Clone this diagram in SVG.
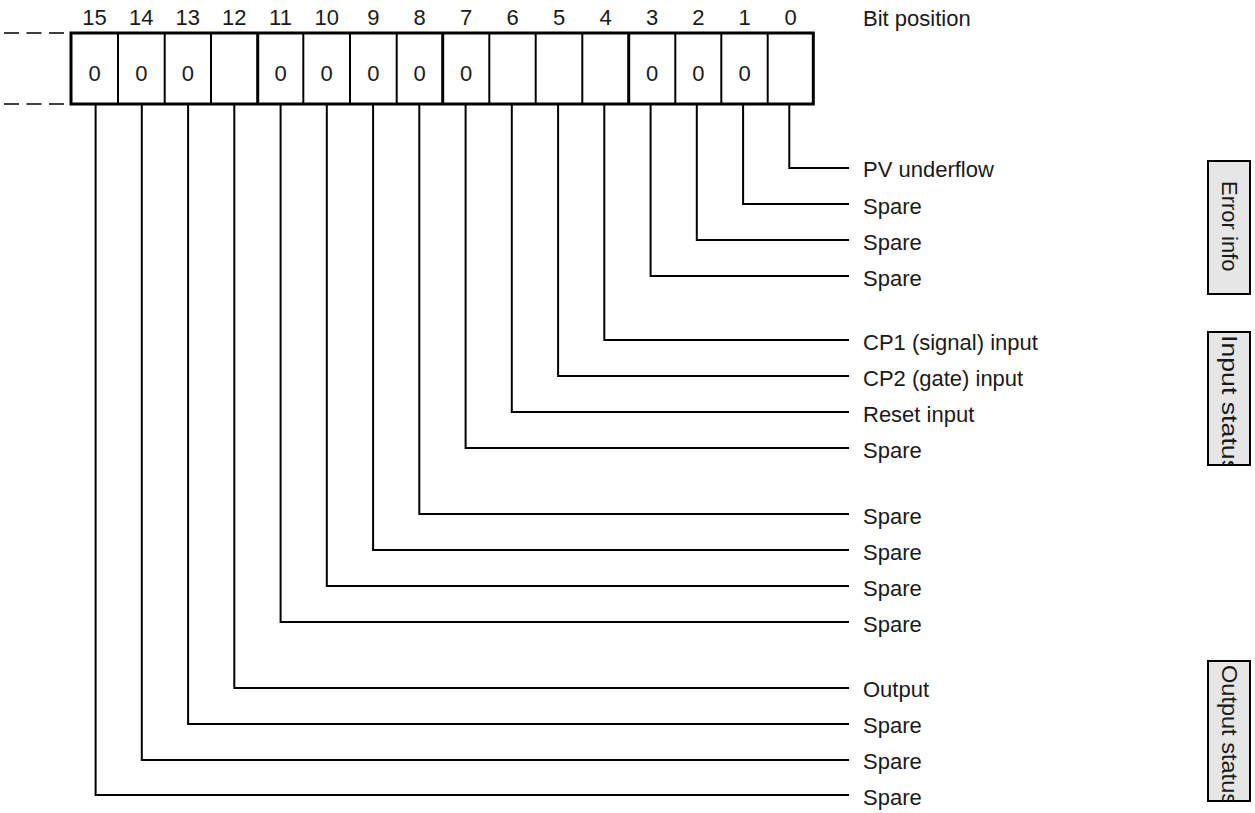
<svg xmlns="http://www.w3.org/2000/svg" width="1255" height="813" viewBox="0 0 1255 813">
<style>
text{font-family:"Liberation Sans",Arial,sans-serif;font-size:22px;fill:#1a1a1a}
.c{text-anchor:middle}
.out{fill:none;stroke:#000;stroke-width:3}
.thin{stroke:#000;stroke-width:2}
.thick{stroke:#000;stroke-width:3}
.dash{stroke:#000;stroke-width:1.5;stroke-dasharray:15 7.5}
.ld{fill:none;stroke:#000;stroke-width:2}
.side{fill:#e6e6e6;stroke:#000;stroke-width:2}
</style>
<defs>
<clipPath id="cp1"><rect x="1208" y="161" width="42" height="133"/></clipPath>
<clipPath id="cp2"><rect x="1208" y="332" width="42" height="133"/></clipPath>
<clipPath id="cp3"><rect x="1208" y="661" width="42" height="140"/></clipPath>
</defs>
<rect width="1255" height="813" fill="#fff"/>
<g id="header">
<text x="94.5" y="25" class="c">15</text>
<text x="141.3" y="25" class="c">14</text>
<text x="187.8" y="25" class="c">13</text>
<text x="234.3" y="25" class="c">12</text>
<text x="280.5" y="25" class="c">11</text>
<text x="326.7" y="25" class="c">10</text>
<text x="373.3" y="25" class="c">9</text>
<text x="419.7" y="25" class="c">8</text>
<text x="466" y="25" class="c">7</text>
<text x="512.5" y="25" class="c">6</text>
<text x="559" y="25" class="c">5</text>
<text x="605.5" y="25" class="c">4</text>
<text x="652" y="25" class="c">3</text>
<text x="698.3" y="25" class="c">2</text>
<text x="744.5" y="25" class="c">1</text>
<text x="790.5" y="25" class="c">0</text>
<text x="863" y="26">Bit position</text>
</g>
<g id="register">
<line x1="4" y1="33" x2="68" y2="33" class="dash"/>
<line x1="4" y1="104" x2="68" y2="104" class="dash"/>
<line x1="118" y1="33" x2="118" y2="104" class="thin"/>
<line x1="164.7" y1="33" x2="164.7" y2="104" class="thin"/>
<line x1="211" y1="33" x2="211" y2="104" class="thin"/>
<line x1="257.7" y1="33" x2="257.7" y2="104" class="thick"/>
<line x1="303.3" y1="33" x2="303.3" y2="104" class="thin"/>
<line x1="350" y1="33" x2="350" y2="104" class="thin"/>
<line x1="396.7" y1="33" x2="396.7" y2="104" class="thin"/>
<line x1="442.7" y1="33" x2="442.7" y2="104" class="thick"/>
<line x1="489.3" y1="33" x2="489.3" y2="104" class="thin"/>
<line x1="535.7" y1="33" x2="535.7" y2="104" class="thin"/>
<line x1="582.3" y1="33" x2="582.3" y2="104" class="thin"/>
<line x1="628.7" y1="33" x2="628.7" y2="104" class="thick"/>
<line x1="675.3" y1="33" x2="675.3" y2="104" class="thin"/>
<line x1="721.3" y1="33" x2="721.3" y2="104" class="thin"/>
<line x1="767.7" y1="33" x2="767.7" y2="104" class="thin"/>
<rect x="71" y="33" width="742.3" height="71" class="out"/>
<text x="94.5" y="81" class="c">0</text>
<text x="141.3" y="81" class="c">0</text>
<text x="187.8" y="81" class="c">0</text>
<text x="280.5" y="81" class="c">0</text>
<text x="326.7" y="81" class="c">0</text>
<text x="373.3" y="81" class="c">0</text>
<text x="419.7" y="81" class="c">0</text>
<text x="466" y="81" class="c">0</text>
<text x="652" y="81" class="c">0</text>
<text x="698.3" y="81" class="c">0</text>
<text x="744.5" y="81" class="c">0</text>
</g>
<g id="connectors">
<polyline class="ld" points="789.3,104 789.3,168 849,168"/>
<polyline class="ld" points="743.1,104 743.1,204 849,204"/>
<polyline class="ld" points="696.8,104 696.8,240 849,240"/>
<polyline class="ld" points="650.6,104 650.6,276 849,276"/>
<polyline class="ld" points="604.3,104 604.3,340 849,340"/>
<polyline class="ld" points="558.1,104 558.1,376 849,376"/>
<polyline class="ld" points="511.8,104 511.8,412 849,412"/>
<polyline class="ld" points="465.6,104 465.6,448 849,448"/>
<polyline class="ld" points="419.3,104 419.3,514 849,514"/>
<polyline class="ld" points="373.1,104 373.1,550 849,550"/>
<polyline class="ld" points="326.8,104 326.8,586 849,586"/>
<polyline class="ld" points="280.6,104 280.6,622 849,622"/>
<polyline class="ld" points="234.3,104 234.3,688 849,688"/>
<polyline class="ld" points="188.1,104 188.1,724 849,724"/>
<polyline class="ld" points="141.8,104 141.8,760 849,760"/>
<polyline class="ld" points="95.6,104 95.6,795 849,795"/>
</g>
<g id="labels">
<text id="bit0" x="863" y="177">PV underflow</text>
<text id="bit1" x="863" y="214">Spare</text>
<text id="bit2" x="863" y="250">Spare</text>
<text id="bit3" x="863" y="286">Spare</text>
<text id="bit4" x="863" y="350">CP1 (signal) input</text>
<text id="bit5" x="863" y="386">CP2 (gate) input</text>
<text id="bit6" x="863" y="422">Reset input</text>
<text id="bit7" x="863" y="458">Spare</text>
<text id="bit8" x="863" y="524">Spare</text>
<text id="bit9" x="863" y="560">Spare</text>
<text id="bit10" x="863" y="596">Spare</text>
<text id="bit11" x="863" y="632">Spare</text>
<text id="bit12" x="863" y="697">Output</text>
<text id="bit13" x="863" y="733">Spare</text>
<text id="bit14" x="863" y="769">Spare</text>
<text id="bit15" x="863" y="805">Spare</text>
</g>
<g id="error-info">
<rect x="1208" y="161" width="42" height="133" class="side"/>
<g clip-path="url(#cp1)"><text transform="translate(1222,181) rotate(90)">Error info</text></g>
</g>
<g id="input-status">
<rect x="1208" y="332" width="42" height="133" class="side"/>
<g clip-path="url(#cp2)"><text transform="translate(1222,335) rotate(90)" textLength="138" lengthAdjust="spacingAndGlyphs">Input status</text></g>
</g>
<g id="output-status">
<rect x="1208" y="661" width="42" height="140" class="side"/>
<g clip-path="url(#cp3)"><text transform="translate(1222,665) rotate(90)" textLength="140" lengthAdjust="spacingAndGlyphs">Output status</text></g>
</g>
</svg>
